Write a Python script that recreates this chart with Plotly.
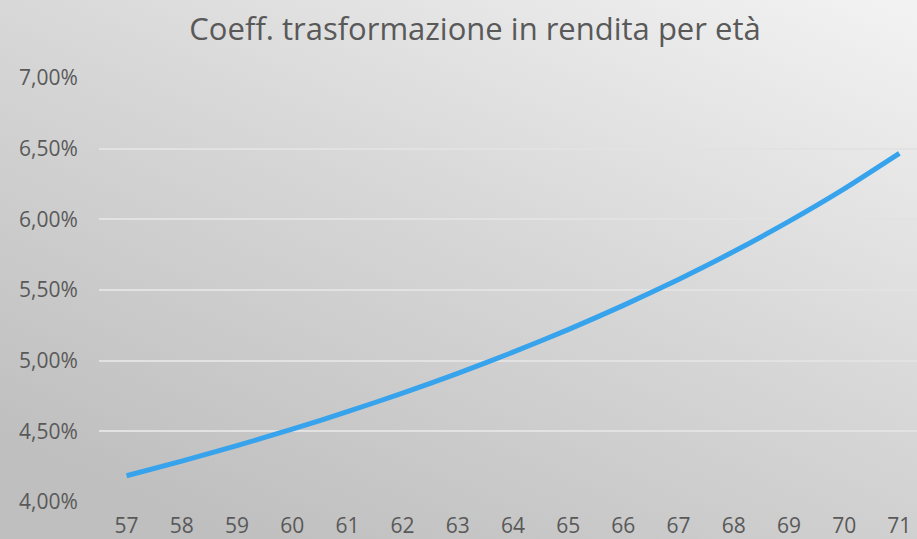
import base64
import plotly.graph_objects as go

ages = [57, 58, 59, 60, 61, 62, 63, 64, 65, 66, 67, 68, 69, 70, 71]
coeff_pct = [4.186, 4.289, 4.399, 4.515, 4.639, 4.770, 4.910, 5.060, 5.220,
             5.391, 5.575, 5.772, 5.985, 6.215, 6.466]
y_ticks_pct = [4.0, 4.5, 5.0, 5.5, 6.0, 6.5, 7.0]
title_text = "Coeff. trasformazione in rendita per età"

W, H = 917, 539
ML, MR, MT, MB = 99, 0, 78, 37
PW, PH = W - ML - MR, H - MT - MB

fig = go.Figure()
fig.add_trace(go.Scatter(
    x=ages, y=[v / 100 for v in coeff_pct], mode="lines",
    line=dict(color="#36A3EC", width=5, shape="spline", smoothing=0.6),
    hoverinfo="x+y",
))

# diagonal gradient background as an SVG image
svg = (
    '<svg xmlns="http://www.w3.org/2000/svg" width="917" height="539">'
    '<defs><linearGradient id="g" x1="1" y1="0" x2="0.25" y2="1">'
    '<stop offset="0" stop-color="#f3f3f3"/>'
    '<stop offset="0.5" stop-color="#d7d7d7"/>'
    '<stop offset="1" stop-color="#bfbfbf"/>'
    '</linearGradient></defs>'
    '<rect width="917" height="539" fill="url(#g)"/></svg>'
)
src = "data:image/svg+xml;base64," + base64.b64encode(svg.encode()).decode()

fig.update_layout(
    width=W, height=H,
    margin=dict(l=ML, r=MR, t=MT, b=MB, autoexpand=False),
    paper_bgcolor="#d6d6d6",
    plot_bgcolor="rgba(0,0,0,0)",
    images=[dict(source=src, xref="paper", yref="paper",
                 x=-ML / PW, y=1 + MT / PH, sizex=W / PW, sizey=H / PH,
                 xanchor="left", yanchor="top", sizing="stretch", layer="below")],
    separators=",.",
    showlegend=False,
    font=dict(family="'Open Sans', 'Noto Sans', sans-serif", color="#595959"),
    title=dict(text=title_text, x=0.518, xanchor="center", y=0.945, yanchor="middle",
               font=dict(size=31, color="#595959")),
)
fig.update_xaxes(
    type="linear", range=[56.5, 71.32], tickmode="array", tickvals=ages,
    showgrid=False, zeroline=False, showline=False, automargin=False,
    ticks="outside", ticklen=5, tickcolor="rgba(0,0,0,0)",
    tickfont=dict(size=21, color="#595959"),
)
fig.update_yaxes(
    range=[0.04, 0.07], tickmode="array", tickvals=[v / 100 for v in y_ticks_pct],
    tickformat=".2%", automargin=False,
    showgrid=True, gridcolor="#e2e2e2", gridwidth=2,
    zeroline=False, showline=False, ticks="outside", ticklen=16,
    tickcolor="rgba(0,0,0,0)", tickfont=dict(size=21, color="#595959"),
)

fig.write_html("out.html", config={"displayModeBar": False},
               post_script="document.body.style.margin='0';")
